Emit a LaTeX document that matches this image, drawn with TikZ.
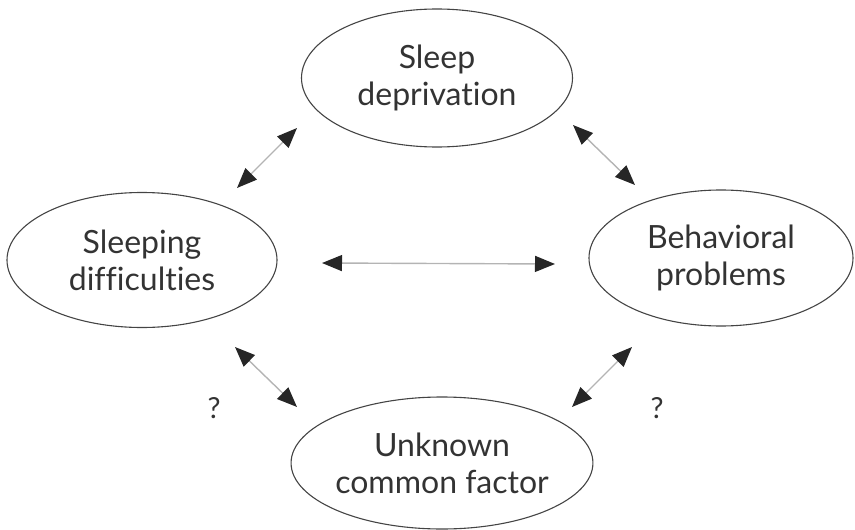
\documentclass[tikz,border=0pt]{standalone}
\usepackage{fontspec}
\setmainfont{Lato}[Ligatures=NoCommon]
\usetikzlibrary{arrows.meta,shapes.geometric}

\definecolor{inkgray}{HTML}{333333}
\definecolor{rimgray}{HTML}{444444}
\definecolor{shaftgray}{HTML}{B4B4B4}

\tikzset{
  bubble/.style={ellipse, draw=rimgray, line width=1.1pt, inner sep=0pt,
    text=inkgray, align=center,
    font=\fontsize{32}{37}\selectfont},
  link/.style={draw=shaftgray, line width=1.4pt,
    {Triangle[length=20pt,width=16pt,color=black!85]}-{Triangle[length=20pt,width=16pt,color=black!85]}},
  query/.style={text=inkgray, font=\fontsize{29}{32}\selectfont, inner sep=0pt}
}

\begin{document}
\begin{tikzpicture}[x=1pt,y=-1pt]
  \useasboundingbox (0,0) rectangle (855,530);

  % the four factors
  \node[bubble, minimum width=271pt, minimum height=138pt] (dep) at (437,78) {Sleep\\deprivation};
  \node[bubble, minimum width=270pt, minimum height=135pt] (dif) at (142,260) {Sleeping\\difficulties};
  \node[bubble, minimum width=264pt, minimum height=136pt] (beh) at (721,258) {Behavioral\\problems};
  \node[bubble, minimum width=271pt, minimum height=132pt] (unk) at (442,463) {Unknown\\common factor};

  % arrow end points
  \coordinate (a1) at (297,128);  \coordinate (a2) at (237,188);
  \coordinate (b1) at (573,125);  \coordinate (b2) at (635,185);
  \coordinate (c1) at (322,263);  \coordinate (c2) at (555,264);
  \coordinate (d1) at (235,347);  \coordinate (d2) at (297,407);
  \coordinate (e1) at (632,347);  \coordinate (e2) at (572,407);

  % two-way links
  \draw[link] (a1) -- (a2);
  \draw[link] (b1) -- (b2);
  \draw[link] (c1) -- (c2);
  \draw[link] (d1) -- (d2);
  \draw[link] (e1) -- (e2);

  % uncertain links
  \node[query] (q1) at (214,408) {?};
  \node[query] (q2) at (657,408) {?};
\end{tikzpicture}
\end{document}
